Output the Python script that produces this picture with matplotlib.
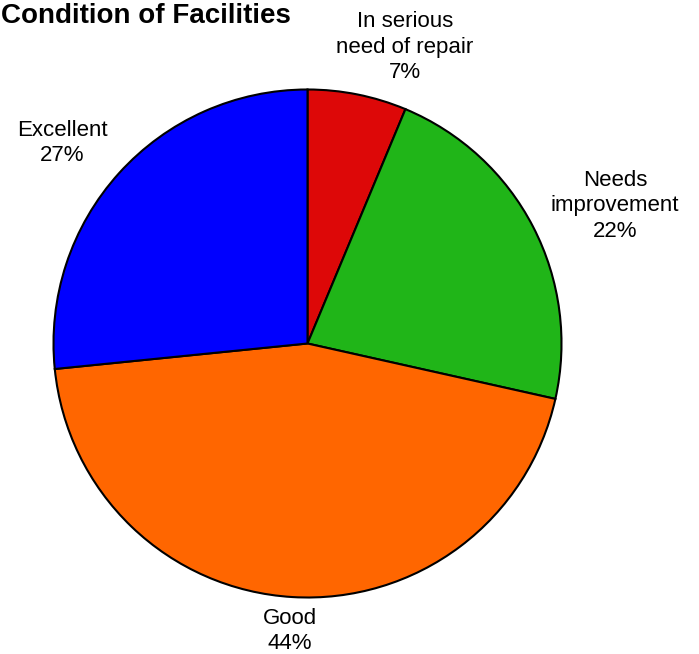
import matplotlib
matplotlib.use("Agg")
import matplotlib.pyplot as plt
import numpy as np

plt.rcParams['font.family'] = ['Liberation Sans', 'DejaVu Sans']

categories = ["In serious\nneed of repair", "Needs\nimprovement", "Good", "Excellent"]
values = [6.3, 22.2, 44.9, 26.6]
pct_labels = ["7%", "22%", "44%", "27%"]
colors = ["#DD0808", "#20B518", "#FF6600", "#0000FF"]

W, H = 699, 654
fig = plt.figure(figsize=(W / 100, H / 100), dpi=100)
ax = fig.add_axes([0, 0, 1, 1])

cx, cy, r = 307.5, H - 343.5, 254
ax.pie(values, colors=colors, startangle=90, counterclock=False,
       center=(cx, cy), radius=r, frame=True,
       wedgeprops=dict(edgecolor='black', linewidth=1.5))
ax.set_xlim(0, W)
ax.set_ylim(0, H)
ax.set_aspect('equal')
ax.axis('off')

# label positions (pixel coords of label centers)
label_pos = [(405, 47), (615, 206), (290, 631), (62, 143)]
for cat, pct, (lx, ly) in zip(categories, pct_labels, label_pos):
    ax.text(lx, H - ly, f"{cat}\n{pct}", ha='center', va='center',
            fontsize=16, linespacing=1.3, color='black')

fig.text(0.001, 1.0 - 23 / H, "Condition of Facilities", fontsize=20,
         fontweight='bold', ha='left', va='baseline')

fig.savefig("out.png", dpi=100)
